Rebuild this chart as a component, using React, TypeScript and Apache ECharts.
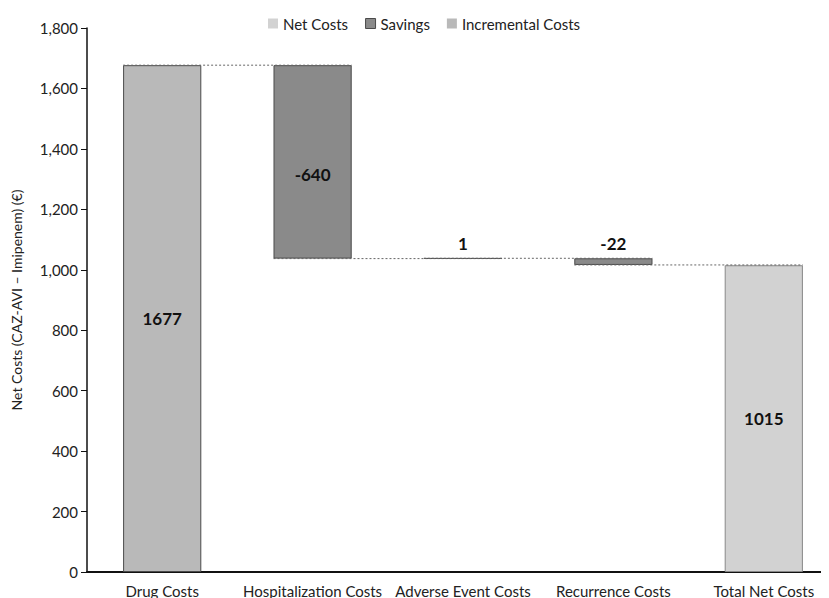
import React, { useEffect, useRef } from "react";
import * as echarts from "echarts";

// Cost components (CAZ-AVI vs Imipenem), € per patient
const categories = [
  "Drug Costs",
  "Hospitalization Costs",
  "Adverse Event Costs",
  "Recurrence Costs",
  "Total Net Costs",
];
const changes = [1677, -640, 1, -22];
const totalNet = 1015;
const yTicks = { min: 0, max: 1800, interval: 200 };

const COLOR_INCREMENTAL = "#b9b9b9";
const COLOR_SAVINGS = "#8a8a8a";
const COLOR_NET = "#d2d2d2";
const BORDER = "#4a4a4a";
const FONT = "Lato, 'Liberation Sans', sans-serif";
const BAR_RATIO = 0.52;

export default function App() {
  const ref = useRef<HTMLDivElement>(null);

  useEffect(() => {
    if (!ref.current) return;
    const chart = echarts.init(ref.current, undefined, { renderer: "svg" });

    // running levels after each step
    const levels: number[] = [];
    let acc = 0;
    changes.forEach((c) => {
      acc += c;
      levels.push(acc);
    });

    const base: (number | string)[] = [];
    const inc: (number | string)[] = [];
    const sav: (number | string)[] = [];
    const net: (number | string)[] = [];
    changes.forEach((c, i) => {
      const before = i === 0 ? 0 : levels[i - 1];
      const after = levels[i];
      base.push(Math.min(before, after));
      if (c >= 0) {
        inc.push(Math.abs(c));
        sav.push("-");
      } else {
        sav.push(Math.abs(c));
        inc.push("-");
      }
      net.push("-");
    });
    base.push(0);
    inc.push("-");
    sav.push("-");
    net.push(totalNet);

    // connector levels: between step i and i+1
    const connectors = levels.map((lv, i) => [i, lv]);

    const labelFor = (idx: number) =>
      idx < changes.length ? String(changes[idx]) : String(totalNet);

    const labelStyle = (pos: any, offset: number[] = [0, 0]) => ({
      show: true,
      position: pos,
      distance: 6,
      offset,
      fontFamily: FONT,
      fontWeight: "bold" as const,
      fontSize: 17,
      color: "#111",
      formatter: (p: any) => labelFor(p.dataIndex),
    });

    const BAR_W = `${BAR_RATIO * 100}%`;

    chart.setOption({
      animation: false,
      grid: {
        left: 87,
        width: 752,
        top: 28,
        bottom: 26,
        containLabel: false,
        outerBoundsMode: "none",
      },
      legend: {
        data: [
          { name: "Net Costs", itemStyle: { borderWidth: 0 } },
          { name: "Savings", itemStyle: { borderColor: BORDER, borderWidth: 1 } },
          { name: "Incremental Costs", itemStyle: { borderWidth: 0 } },
        ],
        top: 11,
        left: 263,
        icon: "rect",
        itemWidth: 10,
        itemHeight: 10,
        itemGap: 17,
        textStyle: { fontFamily: FONT, fontSize: 15, color: "#222" },
      },
      xAxis: {
        type: "category",
        data: categories,
        axisLine: { lineStyle: { color: "#111", width: 2 } },
        axisTick: { show: false },
        axisLabel: {
          fontFamily: FONT,
          fontSize: 15,
          color: "#222",
          margin: 11,
          interval: 0,
        },
      },
      yAxis: {
        type: "value",
        min: yTicks.min,
        max: yTicks.max,
        interval: yTicks.interval,
        name: "Net Costs (CAZ-AVI – Imipenem) (€)",
        nameLocation: "middle",
        nameGap: 64,
        nameTextStyle: { fontFamily: FONT, fontSize: 14, color: "#222" },
        axisLine: { show: true, lineStyle: { color: "#111", width: 1.5 } },
        axisTick: { show: true, length: 6, lineStyle: { color: "#111" } },
        splitLine: { show: false },
        axisLabel: {
          fontFamily: FONT,
          fontSize: 15,
          color: "#222",
          margin: 9,
          formatter: (v: number) => v.toLocaleString("en-US"),
        },
      },
      series: [
        {
          name: "base",
          type: "bar",
          stack: "wf",
          barWidth: BAR_W,
          data: base,
          itemStyle: { color: "transparent", borderColor: "transparent" },
          emphasis: { disabled: true },
          silent: true,
        },
        {
          name: "Incremental Costs",
          type: "bar",
          stack: "wf",
          barWidth: BAR_W,
          data: inc.map((v, i) => ({
            value: v,
            label: labelStyle(i === 0 ? "inside" : "top"),
          })),
          itemStyle: { color: COLOR_INCREMENTAL, borderColor: BORDER, borderWidth: 1 },
        },
        {
          name: "Savings",
          type: "bar",
          stack: "wf",
          barWidth: BAR_W,
          data: sav.map((v, i) => ({
            value: v,
            label: i === 1 ? labelStyle("inside", [0, 13]) : labelStyle("top"),
          })),
          itemStyle: { color: COLOR_SAVINGS, borderColor: BORDER, borderWidth: 1 },
        },
        {
          name: "Net Costs",
          type: "bar",
          stack: "wf",
          barWidth: BAR_W,
          data: net,
          label: labelStyle("inside"),
          itemStyle: { color: COLOR_NET, borderColor: "#888", borderWidth: 1 },
        },
        {
          name: "connectors",
          type: "custom",
          silent: true,
          z: 5,
          data: connectors,
          renderItem: (params: any, api: any) => {
            const i = api.value(0);
            const lv = api.value(1);
            const band = api.size([1, 0])[0];
            const half = (band * BAR_RATIO) / 2;
            const p1 = api.coord([i, lv]);
            const p2 = api.coord([i + 1, lv]);
            return {
              type: "line",
              shape: { x1: p1[0] - half, y1: p1[1], x2: p2[0] + half, y2: p2[1] },
              style: { stroke: "#666", lineWidth: 1, lineDash: [2, 2] },
            };
          },
        },
      ],
    });

    return () => chart.dispose();
  }, []);

  return <div ref={ref} style={{ width: 829, height: 598, marginLeft: -8, marginTop: -8 }} />;
}
